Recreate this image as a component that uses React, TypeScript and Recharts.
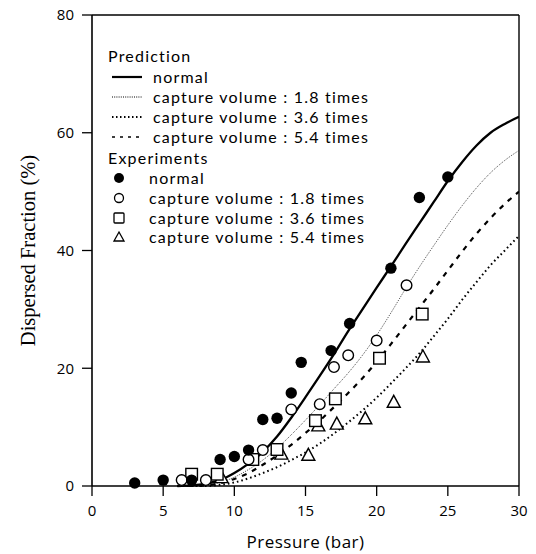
import React from "react";
import {
  ComposedChart,
  Line,
  Scatter,
  XAxis,
  YAxis,
  ReferenceLine,
} from "recharts";

// prediction curves, sampled on a common pressure grid (bar)
const pressureGrid = [
  6, 7, 8, 9, 10, 11, 12, 13, 14, 15, 16, 17, 18, 19, 20, 21, 22, 23, 24, 25,
  26, 27, 28, 29, 30,
];
const normalPrediction = [
  0, 0.1, 0.4, 1.0, 2.2, 3.8, 5.8, 8.4, 11.6, 15.1, 18.7, 22.4, 26.3, 30.0,
  33.7, 37.3, 41.0, 44.6, 48.2, 51.8, 55.0, 57.8, 60.0, 61.5, 62.7,
];
const vol18Prediction = [
  0, 0, 0.1, 0.6, 1.5, 2.8, 4.4, 6.4, 8.7, 11.2, 13.8, 16.5, 19.2, 22.2, 25.6,
  29.4, 33.4, 37.2, 40.8, 44.3, 47.6, 50.6, 53.2, 55.3, 57.0,
];
const vol36Prediction = [
  0, 0, 0.1, 0.5, 1.2, 2.2, 3.6, 5.2, 7.0, 9.0, 11.1, 13.4, 15.8, 18.3, 21.1,
  24.1, 27.2, 30.3, 33.4, 36.6, 39.8, 42.8, 45.5, 47.9, 50.0,
];
const vol54Prediction = [
  0, 0, 0, 0.2, 0.6, 1.3, 2.2, 3.2, 4.4, 5.7, 7.2, 8.9, 10.8, 12.8, 15.0, 17.4,
  19.9, 22.5, 25.4, 28.4, 31.6, 34.6, 37.5, 40.0, 42.5,
];

// experiments
const normalExpP = [3, 5, 7, 9, 10, 11, 12, 13, 14, 14.7, 16.8, 18.1, 21, 23, 25];
const normalExpF = [0.5, 1, 1, 4.5, 5, 6.1, 11.3, 11.5, 15.8, 21, 23, 27.6, 37, 49, 52.5];
const vol18ExpP = [6.3, 8, 11, 12, 14, 16, 17, 18, 20, 22.1];
const vol18ExpF = [1, 1, 4.5, 6.1, 13, 13.9, 20.2, 22.2, 24.7, 34.1];
const vol36ExpP = [7, 8.8, 11.3, 13, 15.7, 17.1, 20.2, 23.2];
const vol36ExpF = [2, 2, 4.5, 6.2, 11.1, 14.8, 21.7, 29.2];
const vol54ExpP = [9.1, 13.3, 15.2, 15.9, 17.2, 19.2, 21.2, 23.25];
const vol54ExpF = [1.5, 5.5, 5.3, 10.3, 10.6, 11.5, 14.3, 22.0];

const xTicks = [0, 5, 10, 15, 20, 25, 30];
const yTicks = [0, 20, 40, 60, 80];

const toPoints = (xs: number[], ys: number[]) =>
  xs.map((x, i) => ({ x, y: ys[i] }));

const FilledDot = (p: any) => <circle cx={p.cx} cy={p.cy} r={5.7} fill="#000" />;
const OpenDot = (p: any) => (
  <circle cx={p.cx} cy={p.cy} r={5.3} fill="#fff" stroke="#000" strokeWidth={1.4} />
);
const OpenSquare = (p: any) => (
  <rect x={p.cx - 5.8} y={p.cy - 5.8} width={11.6} height={11.6} fill="#fff" stroke="#000" strokeWidth={1.4} />
);
const OpenTriangle = (p: any) => (
  <path
    d={`M${p.cx},${p.cy - 6.5} L${p.cx + 6.5},${p.cy + 5.5} L${p.cx - 6.5},${p.cy + 5.5} Z`}
    fill="#fff"
    stroke="#000"
    strokeWidth={1.4}
  />
);

const font = "'Open Sans', sans-serif";

const LegendRow = ({ y, x, children }: any) => (
  <div
    style={{
      position: "absolute",
      left: x,
      top: y - 9,
      height: 18,
      lineHeight: "18px",
      fontSize: 16,
      letterSpacing: 1.2,
      fontFamily: "Lato, sans-serif",
      whiteSpace: "nowrap",
    }}
  >
    {children}
  </div>
);

const LineSample = ({ y, dash, width }: any) => (
  <svg style={{ position: "absolute", left: 110, top: y - 5 }} width={34} height={10}>
    <line x1={2} y1={5} x2={32} y2={5} stroke="#000" strokeWidth={width} strokeDasharray={dash} />
  </svg>
);

const MarkerSample = ({ y, children }: any) => (
  <svg style={{ position: "absolute", left: 109, top: y - 10 }} width={20} height={20}>
    {children}
  </svg>
);

const App = () => {
  return (
    <div style={{ position: "absolute", left: 0, top: 0, width: 536, height: 554, background: "#fff" }}>
      <ComposedChart
        width={536}
        height={554}
        margin={{ top: 15, right: 17, bottom: 0, left: 0 }}
      >
        <XAxis
          type="number"
          dataKey="x"
          domain={[0, 30]}
          ticks={xTicks}
          allowDataOverflow
          height={68}
          tickSize={10}
          tickMargin={9}
          axisLine={{ stroke: "#000", strokeWidth: 1.6 }}
          tickLine={{ stroke: "#000", strokeWidth: 1.3 }}
          tick={{ fill: "#000", fontSize: 15, fontFamily: font }}
          label={{
            value: "Pressure (bar)",
            position: "insideBottom",
            offset: 6,
            fill: "#000",
            fontSize: 17,
            letterSpacing: 0.5,
            fontFamily: font,
          }}
        />
        <YAxis
          type="number"
          domain={[0, 80]}
          ticks={yTicks}
          width={92}
          tickSize={10}
          tickMargin={8}
          axisLine={{ stroke: "#000", strokeWidth: 1.6 }}
          tickLine={{ stroke: "#000", strokeWidth: 1.3 }}
          tick={{ fill: "#000", fontSize: 15, fontFamily: font }}
          label={{
            value: "Dispersed Fraction (%)",
            angle: -90,
            position: "insideLeft",
            offset: 28,
            style: { textAnchor: "middle" },
            fill: "#000",
            fontSize: 20.5,
            fontFamily: "'Liberation Serif', serif",
          }}
        />
        <ReferenceLine y={80} stroke="#000" strokeWidth={1.4} />
        <ReferenceLine x={30} stroke="#000" strokeWidth={1.4} />

        <Line
          data={toPoints(pressureGrid, normalPrediction)}
          dataKey="y"
          type="monotone"
          stroke="#000"
          strokeWidth={2.3}
          dot={false}
          isAnimationActive={false}
        />
        <Line
          data={toPoints(pressureGrid, vol18Prediction)}
          dataKey="y"
          type="monotone"
          stroke="#333"
          strokeWidth={0.9}
          strokeDasharray="1 1.2"
          dot={false}
          isAnimationActive={false}
        />
        <Line
          data={toPoints(pressureGrid, vol36Prediction)}
          dataKey="y"
          type="monotone"
          stroke="#000"
          strokeWidth={2.2}
          strokeDasharray="5 6"
          dot={false}
          isAnimationActive={false}
        />
        <Line
          data={toPoints(pressureGrid, vol54Prediction)}
          dataKey="y"
          type="monotone"
          stroke="#000"
          strokeWidth={2}
          strokeDasharray="1.6 3"
          dot={false}
          isAnimationActive={false}
        />

        <Scatter data={toPoints(vol54ExpP, vol54ExpF)} dataKey="y" shape={OpenTriangle} isAnimationActive={false} />
        <Scatter data={toPoints(vol36ExpP, vol36ExpF)} dataKey="y" shape={OpenSquare} isAnimationActive={false} />
        <Scatter data={toPoints(vol18ExpP, vol18ExpF)} dataKey="y" shape={OpenDot} isAnimationActive={false} />
        <Scatter data={toPoints(normalExpP, normalExpF)} dataKey="y" shape={FilledDot} isAnimationActive={false} />
      </ComposedChart>

      <LegendRow x={108} y={56}>Prediction</LegendRow>
      <LineSample y={77} width={2.2} />
      <LegendRow x={153} y={77}>normal</LegendRow>
      <LineSample y={97} width={1} dash="1 1.2" />
      <LegendRow x={153} y={97}>capture volume : 1.8 times</LegendRow>
      <LineSample y={117} width={1.8} dash="1.5 2.5" />
      <LegendRow x={153} y={117}>capture volume : 3.6 times</LegendRow>
      <LineSample y={137} width={1.6} dash="3 5" />
      <LegendRow x={153} y={137}>capture volume : 5.4 times</LegendRow>

      <LegendRow x={108} y={158}>Experiments</LegendRow>
      <MarkerSample y={178}>
        <circle cx={10} cy={10} r={5} fill="#000" />
      </MarkerSample>
      <LegendRow x={149} y={178}>normal</LegendRow>
      <MarkerSample y={198}>
        <circle cx={10} cy={10} r={4.5} fill="#fff" stroke="#000" strokeWidth={1.3} />
      </MarkerSample>
      <LegendRow x={149} y={198}>capture volume : 1.8 times</LegendRow>
      <MarkerSample y={218}>
        <rect x={5} y={5} width={10} height={10} rx={1} fill="#fff" stroke="#000" strokeWidth={1.3} />
      </MarkerSample>
      <LegendRow x={149} y={218}>capture volume : 3.6 times</LegendRow>
      <MarkerSample y={237}>
        <path d="M10,5 L15,14 L5,14 Z" fill="#fff" stroke="#000" strokeWidth={1.3} />
      </MarkerSample>
      <LegendRow x={149} y={237}>capture volume : 5.4 times</LegendRow>
    </div>
  );
};

export default App;
